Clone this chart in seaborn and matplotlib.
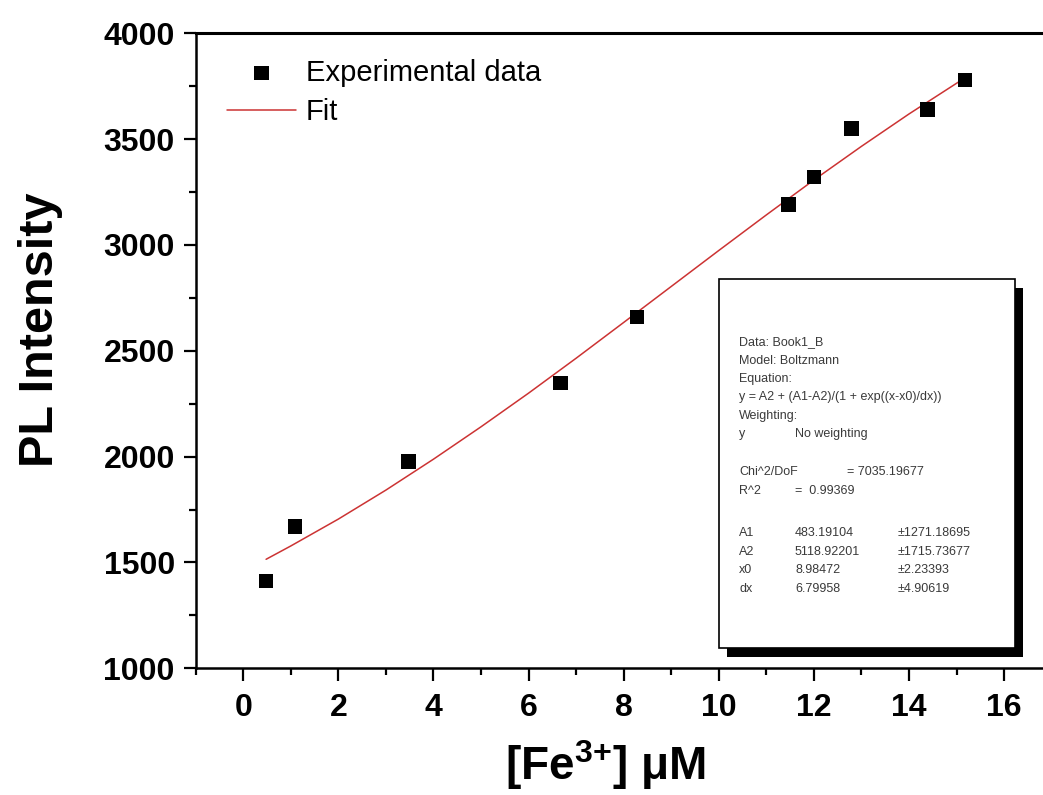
"""
Intensité PL en fonction de [Fe3+] avec ajustement de Boltzmann.
"""

import matplotlib
matplotlib.use("Agg")
import matplotlib.pyplot as plt
from matplotlib.patches import Rectangle
from matplotlib.ticker import MultipleLocator
import pandas as pd
import seaborn as sns

fe_conc = [0.48, 1.09, 3.47, 6.67, 8.28, 11.47, 12.0, 12.79, 14.39, 15.18]
pl_intensity = [1412, 1670, 1976, 2347, 2660, 3190, 3322, 3550, 3640, 3779]

# Courbe d'ajustement (points lus le long de la ligne rouge)
fit_x = [0.48, 1, 2, 3, 4, 5, 6, 7, 8, 9, 10, 11, 12, 13, 14, 15, 15.18]
fit_y = [1515, 1578, 1705, 1842, 1988, 2141, 2300, 2465, 2634, 2804, 2974,
         3142, 3307, 3466, 3619, 3764, 3790]

x_ticks = [0, 2, 4, 6, 8, 10, 12, 14, 16]
y_ticks = [1000, 1500, 2000, 2500, 3000, 3500, 4000]

# Encadré des résultats de l'ajustement
stats_lines = [
    ["Data: Book1_B"],
    ["Model: Boltzmann"],
    ["Equation:"],
    ["y = A2 + (A1-A2)/(1 + exp((x-x0)/dx))"],
    ["Weighting:"],
    ["y", "No weighting"],
    ["Chi^2/DoF", "= 7035.19677"],
    ["R^2", "=  0.99369"],
    ["A1", "483.19104", "\u00b11271.18695"],
    ["A2", "5118.92201", "\u00b11715.73677"],
    ["x0", "8.98472", "\u00b12.23393"],
    ["dx", "6.79958", "\u00b14.90619"],
]
stats_y_px = [341.7, 360.7, 379, 397.3, 415.7, 434.3, 472.3, 491,
              533.3, 551.7, 570, 588.7]

W, H = 1043, 795

sns.set_theme(style="ticks")
plt.rcParams["font.family"] = ["Liberation Sans", "DejaVu Sans"]
plt.rcParams["mathtext.fontset"] = "custom"
plt.rcParams["mathtext.rm"] = "Liberation Sans"
plt.rcParams["mathtext.bf"] = "Liberation Sans:bold"
plt.rcParams["text.color"] = "black"
plt.rcParams["axes.labelcolor"] = "black"
plt.rcParams["xtick.color"] = "black"
plt.rcParams["ytick.color"] = "black"

fig = plt.figure(figsize=(W / 100, H / 100), dpi=100)
fig.patch.set_facecolor("white")
ax = fig.add_axes([195.7 / W, 1 - 668.3 / H, 856 / W, 635 / H])
ax.set_facecolor("white")

df = pd.DataFrame({"x": fe_conc, "y": pl_intensity})
fit_df = pd.DataFrame({"x": fit_x, "y": fit_y})

sns.scatterplot(data=df, x="x", y="y", marker="s", s=110, color="black",
                edgecolor="none", ax=ax, label="Experimental data", zorder=3)
sns.lineplot(data=fit_df, x="x", y="y", color="#cc3333", linewidth=1.1,
             ax=ax, label="Fit", zorder=2)

ax.set_xlim(-1, 17)
ax.set_ylim(1000, 4000)
ax.set_xticks(x_ticks)
ax.set_yticks(y_ticks)
ax.xaxis.set_minor_locator(MultipleLocator(1))
ax.yaxis.set_minor_locator(MultipleLocator(250))

ax.spines["right"].set_visible(False)
for side, lw in [("top", 2.2), ("left", 1.8), ("bottom", 1.8)]:
    ax.spines[side].set_linewidth(lw)
    ax.spines[side].set_color("black")

ax.tick_params(axis="both", which="major", direction="out", length=9,
               width=1.6, color="black", labelcolor="black")
ax.tick_params(axis="both", which="minor", direction="out", length=5,
               width=1.6, color="black")
ax.tick_params(axis="x", which="major", labelsize=23, pad=9)
ax.tick_params(axis="y", which="major", labelsize=23, pad=6)
for lab in ax.get_xticklabels() + ax.get_yticklabels():
    lab.set_fontweight("bold")

ax.set_xlabel("[Fe$^{\\mathbf{3}\\mathbf{+}}$] \u03bcM",
              fontsize=33, fontweight="bold", color="black")
ax.set_ylabel("PL Intensity", fontsize=35, fontweight="bold", color="black")
ax.xaxis.set_label_coords(0.478, -0.11)
ax.yaxis.set_label_coords(-0.155, 0.533)

leg = ax.legend(loc="upper left", bbox_to_anchor=(0.0366, 0.96),
                frameon=False, fontsize=21, handlelength=2.35,
                handletextpad=0.36, labelspacing=0.38, borderpad=0,
                borderaxespad=0)
for t in leg.get_texts():
    t.set_color("black")

# Encadré avec ombre portée
def px_rect(x0, y0, x1, y1, **kw):
    return Rectangle((x0 / W, 1 - y1 / H), (x1 - x0) / W, (y1 - y0) / H,
                     transform=fig.transFigure, **kw)

fig.patches.append(px_rect(727, 288, 1023, 657, facecolor="black",
                           edgecolor="none", zorder=5))
fig.patches.append(px_rect(719, 279, 1015, 648, facecolor="white",
                           edgecolor="black", linewidth=1.2, zorder=6))

col_x = [739, 795, 898]
for cells, ypx in zip(stats_lines, stats_y_px):
    for i, cell in enumerate(cells):
        cx = col_x[i]
        if cells[0] == "Chi^2/DoF" and i == 1:
            cx = 847
        fig.text(cx / W, 1 - ypx / H, cell, fontsize=9, color="#3a3a3a",
                 ha="left", va="center", zorder=7)

fig.savefig("out.png", dpi=100, facecolor="white")
